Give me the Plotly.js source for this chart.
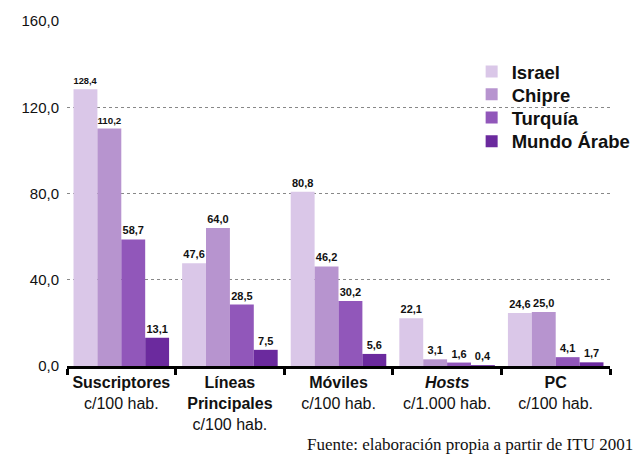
<!DOCTYPE html>
<html>
<head>
<meta charset="utf-8">
<script src="https://cdn.plot.ly/plotly-3.0.1.min.js"></script>
<style>html,body{margin:0;padding:0;background:#fff;}#chart{width:639px;height:456px;}</style>
</head>
<body>
<div id="chart"></div>
<script>
const categories = ["Suscriptores", "Líneas Principales", "Móviles", "Hosts", "PC"];
const tickLabels = [
  "<b>Suscriptores</b><br>c/100 hab.",
  "<b>Líneas</b><br><b>Principales</b><br>c/100 hab.",
  "<b>Móviles</b><br>c/100 hab.",
  "<b><i>Hosts</i></b><br>c/1.000 hab.",
  "<b>PC</b><br>c/100 hab."
];
const seriesNames = ["Israel", "Chipre", "Turquía", "Mundo Árabe"];
const israel = [128.4, 47.6, 80.8, 22.1, 24.6];
const chipre = [110.2, 64.0, 46.2, 3.1, 25.0];
const turquia = [58.7, 28.5, 30.2, 1.6, 4.1];
const mundoArabe = [13.1, 7.5, 5.6, 0.4, 1.7];
const yTicks = [0, 40, 80, 120, 160];
const sourceText = "Fuente: elaboración propia a partir de ITU 2001";

const seriesValues = [israel, chipre, turquia, mundoArabe];
const colors = ["#DAC7E8", "#B794CF", "#9157BA", "#6B2A9E"];
const SANS = "Arial, 'Liberation Sans', sans-serif";
const legendIds = ["legend", "legend2", "legend3", "legend4"];
const legendY = [0.852, 0.786, 0.719, 0.650];

const traces = seriesValues.map((vals, i) => ({
  type: "bar",
  name: seriesNames[i],
  legend: legendIds[i],
  x: categories,
  y: vals,
  marker: {color: colors[i], line: {width: 0}},
  texttemplate: "<b>%{y:.1f}</b>",
  textposition: "outside",
  cliponaxis: false,
  textfont: {family: SANS, size: 11, color: "#111"},
  hoverinfo: "skip"
}));

const layout = {
  width: 639, height: 456,
  margin: {l: 67, r: 3, t: 21, b: 90},
  paper_bgcolor: "#fff", plot_bgcolor: "#fff",
  separators: ",.",
  barmode: "group",
  bargap: 0.12,
  bargroupgap: 0,
  showlegend: true,
  font: {family: SANS, color: "#111"},
  xaxis: {
    type: "category",
    tickmode: "array",
    tickvals: categories,
    ticktext: tickLabels,
    tickson: "boundaries",
    tickangle: 0,
    ticks: "outside", ticklen: 6, tickwidth: 3, tickcolor: "#000",
    showline: true, linecolor: "#000", linewidth: 3,
    showgrid: false,
    tickfont: {family: SANS, size: 16, color: "#111"},
    fixedrange: true
  },
  yaxis: {
    range: [0, 160],
    tickmode: "array",
    tickvals: yTicks,
    tickformat: ".1f",
    showgrid: true, gridcolor: "#888", griddash: "dot", gridwidth: 1,
    zeroline: false, showline: false,
    ticks: "outside", ticklen: 4, tickcolor: "rgba(0,0,0,0)",
    tickfont: {family: SANS, size: 15, color: "#111"},
    fixedrange: true
  },
  shapes: [{
    type: "rect", xref: "paper", yref: "paper",
    x0: 0.733, x1: 1, y0: 0.626, y1: 0.887,
    fillcolor: "#fff", line: {width: 0}, layer: "between"
  }],
  annotations: [{
    text: sourceText,
    xref: "paper", yref: "paper",
    x: 1, y: -0.2609, xanchor: "right", yanchor: "bottom",
    xshift: 25,
    showarrow: false,
    font: {family: "Liberation Serif", size: 17, color: "#111"}
  }]
};

legendIds.forEach((id, i) => {
  layout[id] = {
    x: 0.7452, y: legendY[i], xanchor: "left", yanchor: "middle",
    bgcolor: "rgba(0,0,0,0)",
    font: {family: SANS, size: 18.5, color: "#111", weight: "bold"},
    itemsizing: "constant"
  };
});

Plotly.newPlot("chart", traces, layout, {displayModeBar: false, staticPlot: true});
</script>
</body>
</html>
